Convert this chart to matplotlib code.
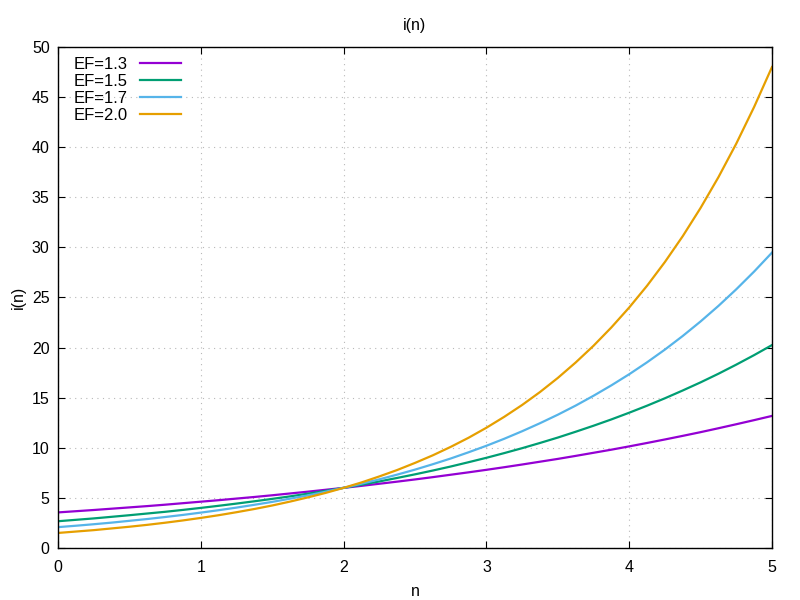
import matplotlib
matplotlib.use('Agg')
import matplotlib.pyplot as plt

plt.rcParams['font.family'] = ['Liberation Sans', 'DejaVu Sans']

# n values (step 0.125) and i(n) values
n = [i * 0.125 for i in range(41)]

ef_13 = [3.55, 3.67, 3.79, 3.92, 4.05, 4.18, 4.32, 4.47, 4.62, 4.77, 4.93,
         5.09, 5.26, 5.44, 5.62, 5.81, 6.00, 6.20, 6.41, 6.62, 6.84, 7.07,
         7.31, 7.55, 7.80, 8.06, 8.33, 8.61, 8.89, 9.19, 9.50, 9.81, 10.14,
         10.48, 10.83, 11.19, 11.56, 11.95, 12.35, 12.76, 13.18]
ef_15 = [2.67, 2.81, 2.95, 3.11, 3.27, 3.44, 3.61, 3.80, 4.00, 4.21, 4.43,
         4.66, 4.90, 5.15, 5.42, 5.70, 6.00, 6.31, 6.64, 6.99, 7.35, 7.73,
         8.13, 8.56, 9.00, 9.47, 9.96, 10.48, 11.02, 11.60, 12.20, 12.83,
         13.50, 14.20, 14.94, 15.72, 16.53, 17.39, 18.30, 19.25, 20.25]
ef_17 = [2.08, 2.22, 2.37, 2.53, 2.71, 2.89, 3.09, 3.30, 3.53, 3.77, 4.03,
         4.31, 4.60, 4.92, 5.25, 5.62, 6.00, 6.41, 6.85, 7.32, 7.82, 8.36,
         8.93, 9.55, 10.20, 10.90, 11.65, 12.45, 13.30, 14.21, 15.19, 16.23,
         17.34, 18.53, 19.80, 21.16, 22.61, 24.16, 25.82, 27.59, 29.48]
ef_20 = [1.50, 1.64, 1.78, 1.95, 2.12, 2.31, 2.52, 2.75, 3.00, 3.27, 3.57,
         3.89, 4.24, 4.63, 5.05, 5.50, 6.00, 6.54, 7.14, 7.78, 8.49, 9.25,
         10.09, 11.00, 12.00, 13.09, 14.27, 15.56, 16.97, 18.51, 20.18,
         22.01, 24.00, 26.17, 28.54, 31.12, 33.94, 37.01, 40.36, 44.02, 48.00]

labels = ['EF=1.3', 'EF=1.5', 'EF=1.7', 'EF=2.0']
colors = ['#9400d3', '#009e73', '#56b4e9', '#e69f00']

fig = plt.figure(figsize=(8, 6), dpi=100)
ax = fig.add_axes([0.0725, 0.0867, 0.8925, 0.835])

for ys, lab, c in zip([ef_13, ef_15, ef_17, ef_20], labels, colors):
    ax.plot(n, ys, color=c, lw=1.6, label=lab)

ax.set_xlim(0, 5)
ax.set_ylim(0, 50)
ax.set_xticks(range(0, 6))
ax.set_yticks(range(0, 51, 5))
ax.grid(True, linestyle=(0, (1, 4)), color='#b8b8b8', lw=0.8)
ax.tick_params(direction='in', top=True, right=True, length=5,
               labelsize=11.5, pad=6)
ax.tick_params(axis='x', pad=9)
for s in ax.spines.values():
    s.set_linewidth(1.0)

ax.set_xlabel('n', fontsize=11.5, labelpad=6)
ax.set_ylabel('i(n)', fontsize=11.5)
ax.set_title('i(n)', fontsize=11.5, pad=12)

leg = ax.legend(loc='upper left', bbox_to_anchor=(0.008, 1.0), frameon=False,
                markerfirst=False, fontsize=12, handlelength=2.5,
                labelspacing=0.12, borderaxespad=0.2, handletextpad=0.7)

fig.savefig('out.png')
